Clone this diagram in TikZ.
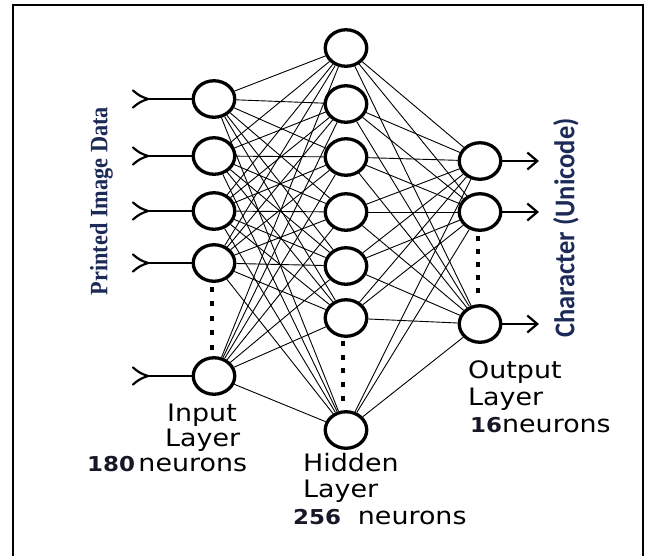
\documentclass[tikz,border=0pt]{standalone}
\usepackage{fontspec}
\setmainfont{DejaVu Sans}
\newfontfamily\serifface{Liberation Serif}
\newfontfamily\calface{Carlito}
\usepackage{graphicx}
\usetikzlibrary{shapes.geometric,arrows.meta}
\definecolor{navy}{RGB}{28,42,88}
\definecolor{numcol}{RGB}{22,24,40}
\newcommand\hs[1]{\scalebox{1.12}[1]{#1}}
\newcommand\numtxt[1]{\textcolor{numcol}{\bfseries\fontsize{20.5}{24}\selectfont #1}}
\begin{document}
\begin{tikzpicture}[x=1pt,y=-1pt,
  neuron/.style={ellipse,draw=black,line width=3.3pt,fill=white,
    minimum width=41.5pt,minimum height=36.5pt,inner sep=0pt},
  link/.style={line width=0.9pt,black},
  feed/.style={line width=2.4pt,black},
  forkarm/.style={line width=2.2pt,black,line cap=round},
  outarrow/.style={line width=2.2pt,black,-{Straight Barb[length=10pt,width=17pt]}},
  lbl/.style={anchor=base west,inner sep=0pt,font=\fontsize{24}{28}\selectfont},
  dotmark/.style={fill=black}]
\useasboundingbox (0,0) rectangle (646,555);
% frame
\draw[line width=2.5pt] (13,560) -- (13,5) -- (643,5) -- (643,560);

% neurons
\foreach \y [count=\k] in {99,156,211,263,376}
  \node[neuron] (i\k) at (214,\y) {};
\foreach \y [count=\k] in {48,104,157,212,266,318,430}
  \node[neuron] (h\k) at (346,\y) {};
\foreach \y [count=\k] in {161,212,324}
  \node[neuron] (o\k) at (480,\y) {};

% connections
\foreach \a in {1,...,5}
  \foreach \b in {1,...,7}
    \draw[link] (i\a) -- (h\b);
\foreach \a in {1,...,7}
  \foreach \b in {1,...,3}
    \draw[link] (h\a) -- (o\b);

% inputs with forked tails
\foreach \y [count=\k] in {99,156,211,263,376} {
  \coordinate (f\k) at (148,\y);
  \draw[feed] (f\k) -- (i\k);
  \draw[forkarm] (f\k) to[bend left=12] ++(-15,-8.5);
  \draw[forkarm] (f\k) to[bend right=12] ++(-15,8.5);
}

% outputs with arrows
\foreach \y [count=\k] in {161,212,324} {
  \coordinate (t\k) at (539,\y);
  \draw[outarrow] (o\k) -- (t\k);
}

% ellipsis dots
\foreach \y in {289,303.5,318,332.5,347}
  \fill[dotmark] (209.75,\y-2.5) rectangle ++(4.5,5);
\foreach \y in {343,357,370.5,384,398}
  \fill[dotmark] (340.75,\y-2.5) rectangle ++(4.5,5);
\foreach \y in {238,251,264,277,290}
  \fill[dotmark] (475.75,\y-2.5) rectangle ++(4.5,5);

% side texts
\node[rotate=90,inner sep=0pt,text=navy,
  font=\serifface\bfseries\fontsize{22.3}{26}\selectfont] (pid) at (101.5,201)
  {\scalebox{1}[1.12]{Printed Image Data}};
\node[rotate=90,inner sep=0pt,text=navy,
  font=\calface\bfseries\fontsize{26.5}{30}\selectfont] (chr) at (566,228)
  {\scalebox{1}[1.08]{Character (Unicode)}};

% layer labels
\node[lbl] (inA) at (167,421) {\hs{Input}};
\node[lbl] (inB) at (165,446) {\hs{Layer}};
\node[lbl] (inC) at (87,471) {\hs{\numtxt{180}\hspace{3pt}neurons}};
\node[lbl] (hdA) at (303,471) {\hs{Hidden}};
\node[lbl] (hdB) at (303,497) {\hs{Layer}};
\node[lbl] (hdC) at (293,524) {\hs{\numtxt{256}\hspace{15pt}neurons}};
\node[lbl] (otA) at (468,378) {\hs{Output}};
\node[lbl] (otB) at (468,405) {\hs{Layer}};
\node[lbl] (otC) at (470,432) {\hs{\numtxt{16}neurons}};
\end{tikzpicture}
\end{document}
